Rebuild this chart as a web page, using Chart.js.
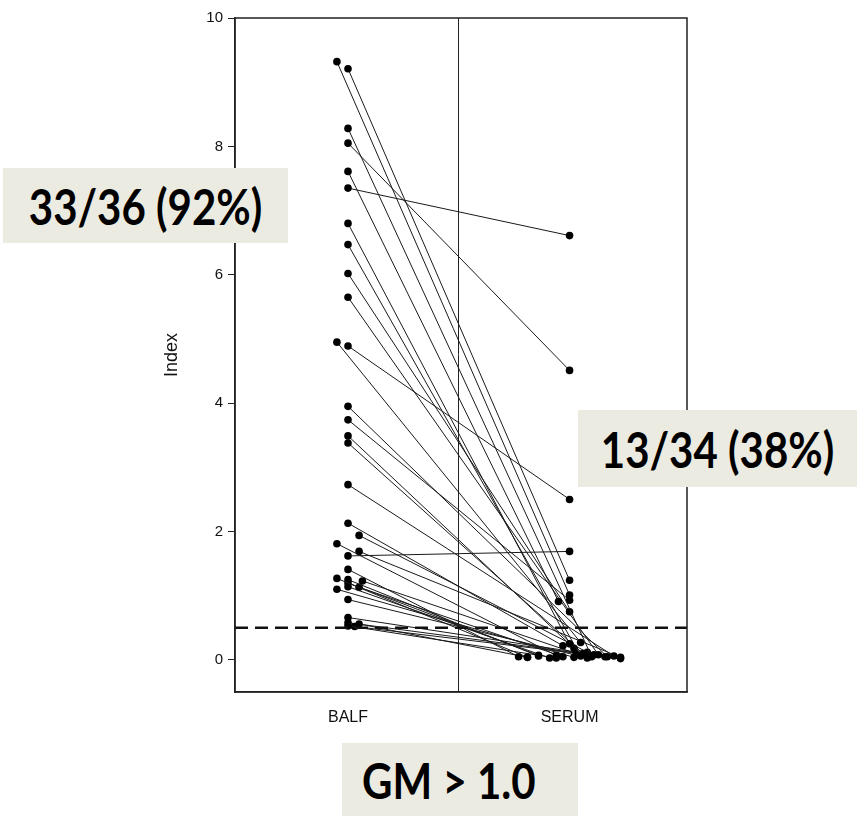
<!DOCTYPE html>
<html lang="en">
<head>
    <meta charset="UTF-8">
    <title>GM index: BALF vs serum</title>
    <script src="https://cdn.jsdelivr.net/npm/chart.js@4/dist/chart.umd.min.js"></script>
    <style>
        body { margin: 0; background: #fff; }
        #wrap { position: relative; width: 857px; height: 816px; }
        .note {
            position: absolute;
            background: #ecebe1;
            display: flex;
            align-items: center;
            justify-content: center;
            font-family: Lato, "Open Sans", sans-serif;
            font-weight: 700;
            color: #000;
        }
        .note span { display: inline-block; transform: scaleY(1.2); }
    </style>
</head>
<body>
<div id="wrap">
    <canvas id="myChart" width="857" height="816"></canvas>
    <div class="note" style="left:3px; top:168px; width:285px; height:75px; font-size:42px;"><span>33/36 (92%)</span></div>
    <div class="note" style="left:578px; top:410px; width:279px; height:77px; font-size:42px;"><span>13/34 (38%)</span></div>
    <div class="note" style="left:342px; top:743px; width:236px; height:73px; font-size:42px; justify-content:flex-start; padding-left:20px; box-sizing:border-box;"><span>GM &gt; 1.0</span></div>
</div>

<script>
    // categories and tick labels
    const categories = ['BALF', 'SERUM'];
    const yTicks = [0, 2, 4, 6, 8, 10];
    const cutoff = 0.5;

    // paired values (same patient = same index)
    const balf  = [9.32, 9.21, 8.28, 8.05, 7.61, 7.35, 6.80, 6.47, 6.02, 5.65, 4.95, 4.89,
                   3.95, 3.74, 3.49, 3.38, 2.73, 2.13, 1.94, 1.81, 1.69, 1.62, 1.41, 1.27,
                   1.25, 1.23, 1.14, 1.13, 1.10, 0.94, 0.66, 0.56, 0.53, 0.52, 1.20, 0.58];
    const serum = [1.01, 1.24, 0.05, 4.51, 0.91, 6.61, 0.25, 0.06, 0.75, 0.08, 0.27, 2.50,
                   0.05, 0.93, 0.18, 0.10, 0.06, 0.22, 0.12, 0.07, 0.04, 1.69, 0.05, 0.04,
                   0.06, 0.10, 0.03, 0.05, 0.04, 0.03, 0.08, 0.04, 0.03, 0.05, 0.07, 0.02];

    // jittered x positions (BALF centred on 0.5, SERUM on 1.5)
    const balfX  = [0.45, 0.5, 0.5, 0.5, 0.5, 0.5, 0.5, 0.5, 0.5, 0.5, 0.45, 0.5,
                    0.5, 0.5, 0.5, 0.5, 0.5, 0.5, 0.55, 0.45, 0.55, 0.5, 0.5, 0.45,
                    0.5, 0.565, 0.5, 0.55, 0.45, 0.5, 0.5, 0.55, 0.5, 0.53, 0.5, 0.5];
    const serumX = [1.5, 1.5, 1.6, 1.5, 1.45, 1.5, 1.5, 1.55, 1.5, 1.63, 1.55, 1.5,
                    1.67, 1.5, 1.52, 1.56, 1.7, 1.47, 1.58, 1.44, 1.73, 1.5, 1.27, 1.31,
                    1.36, 1.53, 1.41, 1.47, 1.52, 1.58, 1.61, 1.31, 1.44, 1.66, 1.36, 1.73];

    const datasets = balf.map((b, i) => ({
        data: [{ x: balfX[i], y: b }, { x: serumX[i], y: serum[i] }],
        showLine: true,
        borderColor: '#1a1a1a',
        borderWidth: 1,
        pointRadius: 3.8,
        pointBackgroundColor: '#000',
        pointBorderColor: '#000',
        pointBorderWidth: 0
    }));

    datasets.unshift({
        data: [{ x: -0.01, y: cutoff }, { x: 2.03, y: cutoff }],
        showLine: true,
        borderColor: '#111',
        borderWidth: 2.5,
        borderDash: [13, 7],
        pointRadius: 0
    });

    // box around the plot area (top and right edges)
    const frame = {
        id: 'frame',
        afterDatasetsDraw(chart) {
            const { ctx, chartArea: a } = chart;
            ctx.save();
            ctx.strokeStyle = '#222';
            ctx.lineWidth = 1.5;
            ctx.strokeRect(a.left, a.top, a.right - a.left, a.bottom - a.top);
            ctx.restore();
        }
    };

    const ctx = document.getElementById('myChart').getContext('2d');
    new Chart(ctx, {
        type: 'scatter',
        data: { datasets },
        plugins: [frame],
        options: {
            responsive: false,
            animation: false,
            layout: { padding: { left: 161, top: 18, right: 170, bottom: 0 } },
            plugins: { legend: { display: false }, tooltip: { enabled: false } },
            scales: {
                x: {
                    type: 'linear',
                    min: -0.01,
                    max: 2.03,
                    afterBuildTicks: axis => { axis.ticks = [0.5, 1, 1.5].map(v => ({ value: v })); },
                    afterFit: scale => { scale.height = 124; },
                    border: { color: '#222', width: 1.5 },
                    grid: {
                        drawTicks: false,
                        color: c => c.tick && c.tick.value === 1 ? '#222' : 'rgba(0,0,0,0)',
                        lineWidth: 1
                    },
                    ticks: {
                        padding: 16,
                        color: '#111',
                        font: { family: 'Liberation Sans, Arial', size: 16 },
                        callback: v => v === 0.5 ? categories[0] : (v === 1.5 ? categories[1] : '')
                    }
                },
                y: {
                    min: -0.5,
                    max: 10,
                    afterBuildTicks: axis => { axis.ticks = yTicks.map(v => ({ value: v })); },
                    afterFit: scale => { scale.width = 74; },
                    border: { color: '#222', width: 1.5 },
                    grid: { drawOnChartArea: false, tickLength: 7, tickColor: '#222' },
                    ticks: {
                        padding: 5,
                        color: '#111',
                        font: { family: 'Liberation Sans, Arial', size: 15 }
                    },
                    title: {
                        display: true,
                        text: 'Index',
                        color: '#111',
                        padding: 0,
                        font: { family: 'Liberation Sans, Arial', size: 18 }
                    }
                }
            }
        }
    });
</script>
</body>
</html>
